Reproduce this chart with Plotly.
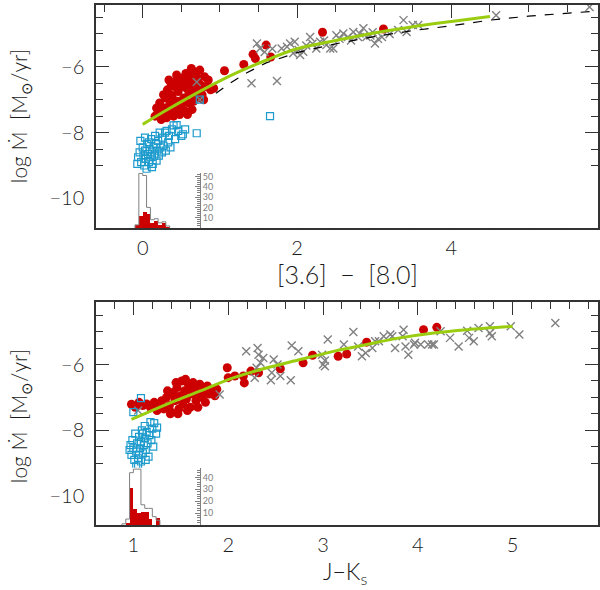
import plotly.graph_objects as go

# ---------------- top panel: [3.6]-[8.0] ----------------
top_red_x = [0.16, 0.20, 0.22, 0.25, 0.28, 0.30, 0.32, 0.33, 0.35, 0.37, 0.38, 0.40, 0.42, 0.43,
             0.45, 0.46, 0.48, 0.50, 0.50, 0.52, 0.53, 0.55, 0.56, 0.58, 0.60, 0.60, 0.62, 0.64,
             0.65, 0.67, 0.68, 0.70, 0.72, 0.74, 0.75, 0.77, 0.80, 0.82, 0.85, 0.88, 0.92, 0.27,
             0.34, 0.41, 0.44, 0.57, 0.63, 0.69, 0.55, 0.47, 0.39, 0.31, 0.24, 0.18, 0.79, 0.66,
             0.58, 0.36, 0.49, 0.61, 0.72,
             1.06, 1.31, 1.43, 1.46, 1.60, 1.66, 2.33, 3.12]
top_red_y = [-7.50, -7.35, -7.10, -7.45, -7.25, -6.95, -6.70, -7.40, -7.15, -6.55, -6.90, -7.50, -7.30, -6.45,
             -7.05, -6.75, -7.45, -6.60, -7.20, -6.35, -6.95, -7.35, -6.20, -6.50, -6.80, -7.10, -6.30, -7.30,
             -6.60, -6.15, -6.95, -6.75, -6.35, -6.10, -6.55, -6.85, -6.30, -6.60, -6.40, -6.70, -6.65, -6.85,
             -6.40, -6.60, -6.25, -6.65, -6.05, -6.45, -7.05, -7.20, -7.10, -7.55, -7.60, -7.25, -7.00, -7.05,
             -7.45, -6.85, -6.50, -6.45, -6.95,
             -6.12, -5.93, -5.62, -5.75, -5.34, -5.70, -4.95, -4.85]

top_blue_x = [-0.06, -0.04, -0.03, -0.02, 0.00, 0.01, 0.02, 0.03, 0.04, 0.05, 0.06, 0.07, 0.08, 0.09,
              0.10, 0.11, 0.12, 0.13, 0.14, 0.15, 0.16, 0.17, 0.18, 0.19, 0.20, 0.21, 0.22, 0.23,
              0.25, 0.26, 0.27, 0.29, 0.30, 0.31, 0.33, 0.34, 0.36, 0.38, 0.40, 0.42, 0.44, 0.46,
              0.50, 0.52, 0.55, 0.70, 0.74, 1.65, -0.07, 0.03, 0.12, 0.08]
top_blue_y = [-8.75, -8.60, -8.25, -8.90, -8.45, -8.70, -9.00, -8.55, -8.80, -9.10, -8.35, -8.65, -8.90, -8.50,
              -8.75, -8.20, -8.60, -8.95, -8.45, -8.70, -8.10, -8.35, -8.85, -8.55, -8.25, -8.70, -8.00, -8.45,
              -8.60, -8.15, -8.40, -8.00, -8.55, -7.95, -8.30, -8.10, -8.45, -7.90, -7.78, -8.20, -7.77, -7.95,
              -8.10, -8.05, -7.90, -8.02, -7.00, -7.50, -8.95, -8.15, -9.05, -8.30]

top_grey_x = [0.70, 0.74, 1.41, 1.48, 1.52, 1.74, 1.80, 1.87, 1.91, 1.95, 1.97, 2.02, 2.04, 2.08,
              2.17, 2.25, 2.30, 2.38, 2.43, 2.47, 2.51, 2.60, 2.66, 2.73, 2.79, 2.81, 2.86, 2.90,
              2.95, 3.01, 3.10, 3.31, 3.38, 3.42, 3.50, 3.57, 4.58, 5.79, 1.58, 1.68, 2.12, 2.20,
              2.35, 2.55, 2.70, 2.98, 3.20, 3.05]
top_grey_y = [-6.46, -7.00, -6.50, -5.29, -5.44, -6.43, -5.44, -5.39, -5.29, -5.59, -5.24, -5.49, -5.64, -5.54,
              -5.09, -5.44, -5.24, -5.34, -5.44, -5.44, -5.04, -4.99, -5.09, -4.94, -5.09, -4.99, -4.83, -5.09,
              -5.05, -5.29, -5.09, -4.88, -4.58, -4.94, -4.73, -4.73, -4.43, -4.18, -5.55, -5.45, -5.35, -5.30,
              -5.20, -5.15, -5.20, -4.95, -5.00, -5.15]

top_fit_x = [0.0, 0.3, 0.6, 0.9, 1.2, 1.6, 2.0, 2.5, 3.0, 3.5, 4.0, 4.5]
top_fit_y = [-7.75, -7.33, -6.93, -6.55, -6.20, -5.80, -5.45, -5.20, -4.97, -4.78, -4.62, -4.47]

top_model_x = [0.95, 1.13, 1.35, 1.60, 2.00, 2.50, 3.00, 3.50, 4.00, 4.50, 5.00, 5.50, 5.90]
top_model_y = [-6.80, -6.50, -6.18, -5.88, -5.57, -5.30, -5.08, -4.90, -4.75, -4.58, -4.46, -4.37, -4.30]

top_hist_edges = [-0.10, -0.05, 0.00, 0.05, 0.10, 0.15, 0.20, 0.25, 0.30, 0.35]
top_hist_all = [3, 53, 51, 20, 8, 9, 5, 6, 2]
top_hist_red = [3, 12, 16, 14, 5, 7, 3, 5, 1]

# ---------------- bottom panel: J-Ks ----------------
bot_red_x = [0.98, 1.02, 1.06, 1.10, 1.14, 1.18, 1.22, 1.26, 1.30, 1.32, 1.35, 1.38, 1.40, 1.42,
             1.44, 1.46, 1.48, 1.50, 1.51, 1.52, 1.54, 1.56, 1.58, 1.60, 1.62, 1.64, 1.66, 1.68,
             1.70, 1.72, 1.74, 1.76, 1.78, 1.80, 1.83, 1.86, 1.88, 1.45, 1.55, 1.63, 1.36, 1.39,
             1.47, 1.57, 1.68, 1.43, 1.53, 1.61, 1.73, 1.25,
             1.99, 2.00, 2.07, 2.16, 2.17, 2.24, 2.32, 2.55, 2.79, 2.89, 3.16, 3.25, 3.46, 4.06, 4.20]
bot_red_y = [-7.21, -7.30, -7.15, -7.25, -7.20, -7.30, -7.15, -7.25, -7.10, -7.35, -7.00, -7.25, -7.45, -6.85,
             -7.10, -6.70, -7.35, -6.95, -6.50, -7.20, -6.80, -7.05, -6.60, -7.30, -6.90, -6.70, -7.10, -6.85,
             -6.60, -7.00, -6.75, -7.15, -6.65, -6.90, -6.80, -6.95, -6.75, -6.55, -6.45, -6.55, -6.80, -7.50,
             -7.50, -7.40, -7.30, -6.95, -7.00, -6.75, -6.90, -7.40,
             -6.10, -6.40, -6.35, -6.35, -6.56, -6.20, -6.25, -6.13, -5.95, -5.72, -5.75, -5.68, -5.32, -4.94, -4.87]

bot_blue_x = [0.96, 0.97, 0.98, 0.99, 1.00, 1.01, 1.02, 1.03, 1.04, 1.05, 1.05, 1.06, 1.07, 1.08,
              1.08, 1.09, 1.10, 1.11, 1.12, 1.12, 1.13, 1.14, 1.15, 1.16, 1.17, 1.18, 1.19, 1.20,
              1.21, 1.22, 1.24, 1.25, 1.03, 1.06, 1.10, 1.13, 1.00, 1.08]
bot_blue_y = [-8.60, -8.45, -8.75, -8.30, -8.55, -8.90, -8.10, -8.65, -8.40, -8.85, -9.05, -8.20, -8.55, -8.95,
              -8.35, -8.00, -8.70, -8.45, -7.87, -8.25, -8.60, -8.05, -8.40, -8.80, -8.15, -7.75, -8.30, -7.95,
              -8.50, -7.78, -8.10, -7.92, -9.10, -8.75, -8.10, -8.90, -7.45, -7.02]

bot_grey_x = [1.91, 2.19, 2.31, 2.32, 2.37, 2.34, 2.30, 2.28, 2.48, 2.46, 2.45, 2.52, 2.66, 2.67,
              2.74, 2.55, 2.99, 3.02, 3.02, 3.05, 3.22, 3.32, 3.37, 3.41, 3.45, 3.52, 3.59, 3.64,
              3.73, 3.76, 3.85, 3.84, 3.87, 3.90, 3.96, 4.03, 4.11, 4.17, 4.24, 4.34, 4.43, 4.52,
              4.54, 4.59, 4.64, 4.76, 4.76, 4.78, 4.98, 5.07, 5.45, 3.00, 3.71, 3.55, 4.15, 3.97,
              1.05]
bot_grey_y = [-6.91, -5.60, -5.50, -5.70, -5.80, -5.95, -6.10, -6.40, -5.85, -6.25, -6.48, -6.00, -6.48, -5.42,
              -5.60, -6.35, -5.70, -5.88, -6.05, -5.24, -5.39, -5.01, -5.45, -5.75, -5.65, -5.50, -5.29, -5.14,
              -5.14, -5.50, -4.94, -5.14, -5.45, -5.70, -5.39, -5.39, -5.39, -5.39, -4.99, -5.19, -5.45, -4.97,
              -5.19, -5.29, -4.89, -4.84, -5.04, -5.14, -4.84, -5.09, -4.74, -6.00, -5.09, -5.29, -5.39, -5.34,
              -7.40]

bot_fit_x = [0.98, 1.35, 1.70, 2.06, 2.41, 2.76, 3.11, 3.46, 3.81, 4.17, 4.52, 5.00]
bot_fit_y = [-7.67, -7.21, -6.81, -6.40, -6.10, -5.85, -5.60, -5.39, -5.19, -5.04, -4.94, -4.84]

bot_hist_edges = [0.88, 0.92, 0.96, 1.00, 1.04, 1.08, 1.12, 1.16, 1.20, 1.24, 1.28]
bot_hist_all = [1, 5, 44, 47, 47, 17, 14, 14, 7, 4]
bot_hist_red = [0, 2, 31, 14, 10, 11, 11, 5, 0, 6]

RED = "#cc0000"
BLUE = "#1e9bcd"
GREY = "#808080"
GREEN = "#9acd10"
FRAME = "#333333"
FONT = "Lato"


def step_xy(edges, counts):
    return [edges[0]] + list(edges), [0] + list(counts) + [0]


def centers(edges):
    return [(a + b) / 2 for a, b in zip(edges[:-1], edges[1:])]


fig = go.Figure()

panels = [
    ("x", "y", "y3", top_red_x, top_red_y, top_blue_x, top_blue_y, top_grey_x, top_grey_y,
     top_fit_x, top_fit_y, top_hist_edges, top_hist_all, top_hist_red),
    ("x2", "y2", "y4", bot_red_x, bot_red_y, bot_blue_x, bot_blue_y, bot_grey_x, bot_grey_y,
     bot_fit_x, bot_fit_y, bot_hist_edges, bot_hist_all, bot_hist_red),
]

for xa, ya, ha, rx, ry, bx, by, gx, gy, fx, fy, edges, hall, hred in panels:
    # histograms along the bottom edge
    fig.add_trace(go.Bar(x=centers(edges), y=hred, width=edges[1] - edges[0],
                         marker=dict(color=RED, line=dict(width=0)),
                         xaxis=xa, yaxis=ha, showlegend=False))
    sx, sy = step_xy(edges, hall)
    fig.add_trace(go.Scatter(x=sx, y=sy, mode="lines", line=dict(color=GREY, width=1, shape="hv"),
                             xaxis=xa, yaxis=ha, showlegend=False))
    fig.add_trace(go.Scatter(x=rx, y=ry, mode="markers",
                             marker=dict(color=RED, size=9, line=dict(width=0)),
                             xaxis=xa, yaxis=ya, showlegend=False))
    fig.add_trace(go.Scatter(x=gx, y=gy, mode="markers",
                             marker=dict(symbol="x-thin", size=8, line=dict(color=GREY, width=1.4)),
                             xaxis=xa, yaxis=ya, showlegend=False))
    fig.add_trace(go.Scatter(x=bx, y=by, mode="markers",
                             marker=dict(symbol="square-open", size=7, color=BLUE, line=dict(width=1.2)),
                             xaxis=xa, yaxis=ya, showlegend=False))
    if xa == "x":
        fig.add_trace(go.Scatter(x=top_model_x, y=top_model_y, mode="lines",
                                 line=dict(color="black", width=1.2, dash="dash"),
                                 xaxis=xa, yaxis=ya, showlegend=False))
    fig.add_trace(go.Scatter(x=fx, y=fy, mode="lines", line=dict(color=GREEN, width=3, shape="spline"),
                             xaxis=xa, yaxis=ya, showlegend=False))

tick_font = dict(family=FONT, size=20, color="#1a1a1a", weight=300)
minor_style = dict(ticks="inside", ticklen=7, tickcolor=FRAME, tickwidth=1.2, tick0=0)

common = dict(showline=True, linecolor=FRAME, linewidth=1.5, mirror="ticks", ticks="inside",
              ticklen=13, tickwidth=1.2, tickcolor=FRAME, showgrid=False, zeroline=False,
              automargin=False, tickfont=tick_font)

hist_axis = dict(anchor="free", position=0.2072, side="right", automargin=False,
                 showline=True, linecolor=GREY, linewidth=1, ticks="inside", ticklen=5, tickcolor=GREY,
                 showgrid=False, zeroline=False,
                 tickfont=dict(family=FONT, size=9, color=GREY),
                 minor=dict(dtick=2, ticks="inside", ticklen=3, tickcolor=GREY))

fig.update_layout(
    template="none",
    width=600, height=590,
    margin=dict(l=96, r=2, t=5, b=65),
    paper_bgcolor="white", plot_bgcolor="white",
    bargap=0,
    xaxis=dict(common, domain=[0, 1], anchor="y", range=[-0.605, 5.9], dtick=2, tick0=0,
               ticklabelstandoff=1, minor=dict(minor_style, dtick=0.5)),
    yaxis=dict(common, domain=[0.5712, 1], anchor="x", range=[-10.9, -4.12], dtick=2, tick0=0,
               tickformat="d", ticklabelstandoff=6, minor=dict(minor_style, dtick=0.5)),
    xaxis2=dict(common, domain=[0, 1], anchor="y2", range=[0.606, 5.9], dtick=1, tick0=0,
                ticklabelstandoff=1, minor=dict(minor_style, dtick=0.2)),
    yaxis2=dict(common, domain=[0, 0.4288], anchor="x2", range=[-10.88, -4.1], dtick=2, tick0=0,
                tickformat="d", ticklabelstandoff=6, minor=dict(minor_style, dtick=0.5)),
    yaxis3=dict(hist_axis, domain=[0.5712, 0.6775], range=[0, 53.7], tickvals=[10, 20, 30, 40, 50]),
    yaxis4=dict(hist_axis, domain=[0, 0.1102], range=[0, 48.2], tickvals=[10, 20, 30, 40]),
)

title_font = dict(family=FONT, size=21, color="#1a1a1a", weight=300)
ytitle = "log Ṁ  [M<sub>⊙</sub>/yr]"
center = dict(xref="paper", yref="paper", xanchor="center", yanchor="middle", showarrow=False)
fig.add_annotation(center, text=ytitle, x=-0.151, y=0.7865, textangle=-90, font=title_font)
fig.add_annotation(center, text=ytitle, x=-0.151, y=0.2096, textangle=-90, font=title_font)
fig.add_annotation(center, text="[3.6]  −  [8.0]", x=0.5, y=0.482,
                   font=dict(family=FONT, size=25, color="#1a1a1a", weight=300))
fig.add_annotation(center, text="J−K<sub>s</sub>", x=0.496, y=-0.092,
                   font=dict(family=FONT, size=23, color="#1a1a1a", weight=300))

fig.write_html("out.html", config={"displayModeBar": False},
               post_script="document.body.style.margin='0px';")
